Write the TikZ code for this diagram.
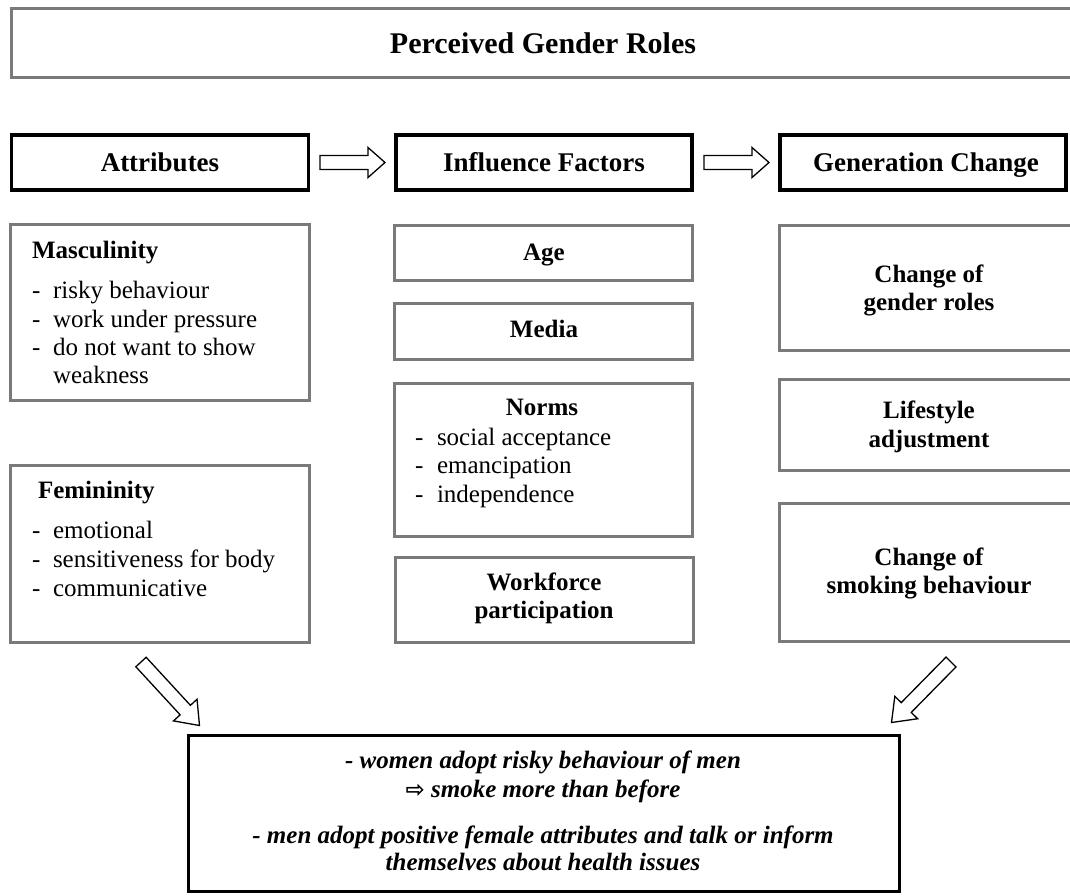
\documentclass[tikz,border=0pt]{standalone}
\usepackage{fontspec}
\setmainfont{Liberation Serif}
\newfontfamily\symfont{DejaVu Sans}
\usetikzlibrary{calc}
\definecolor{boxgray}{RGB}{122,122,122}
\newcommand{\hollowarrow}[5]{%
  \coordinate (hb) at ($(#2)!#5pt!(#1)$);
  \draw[blockarr] ($(#1)!#3pt!90:(#2)$) -- ($(hb)!#3pt!90:(#2)$) -- ($(hb)!#4pt!90:(#2)$) -- (#2)
     -- ($(hb)!#4pt!-90:(#2)$) -- ($(hb)!#3pt!-90:(#2)$) -- ($(#1)!#3pt!-90:(#2)$) -- cycle;}
\begin{document}
\begin{tikzpicture}[x=1pt,y=-1pt,
  every node/.style={inner sep=0pt, outer sep=0pt},
  gbox/.style={draw=boxgray, line width=3pt, rectangle, anchor=north west},
  hbox/.style={draw=black, line width=3.5pt, rectangle, anchor=north west},
  resbox/.style={draw=black, line width=3pt, rectangle, anchor=north west},
  body/.style={font=\fontsize{25pt}{28pt}\selectfont},
  lt/.style={body, anchor=base west},
  bt/.style={font=\fontsize{25pt}{28pt}\selectfont\bfseries, anchor=base},
  blt/.style={font=\fontsize{25pt}{28pt}\selectfont\bfseries, anchor=base west},
  hdr/.style={font=\fontsize{27pt}{30pt}\selectfont\bfseries, anchor=base},
  it/.style={font=\fontsize{25pt}{28pt}\selectfont\bfseries\itshape, anchor=base},
  blockarr/.style={draw=black, line width=1.3pt, fill=white, line join=miter}]
\useasboundingbox (0,0) rectangle (1070,895);
\clip (0,0) rectangle (1070,895);

% title box
\node[gbox, minimum width=1080pt, minimum height=69pt] (top) at (11.5,8) {};
\node[font=\fontsize{30pt}{33pt}\selectfont\bfseries, anchor=base] (title) at (543,53) {Perceived Gender Roles};

% headers
\node[hbox, minimum width=297pt, minimum height=55pt] (attr) at (11.5,135) {};
\node[hbox, minimum width=296pt, minimum height=55pt] (infl) at (396,135) {};
\node[hbox, minimum width=286pt, minimum height=55pt] (gen) at (780,135) {};
\node[hdr] (attrt) at (160,171.5) {Attributes};
\node[hdr] (inflt) at (544,171.5) {Influence Factors};
\node[hdr] (gent) at (926,171.5) {Generation Change};

\coordinate (a1t) at ($(attr.east)+(11.5,0)$);
\coordinate (a1h) at ($(infl.west)+(-11,0)$);
\coordinate (a2t) at ($(infl.east)+(12,0)$);
\coordinate (a2h) at ($(gen.west)+(-11,0)$);
\hollowarrow{a1t}{a1h}{7}{15}{17}
\hollowarrow{a2t}{a2h}{7}{15}{17}

% attributes column
\node[gbox, minimum width=299pt, minimum height=176pt] (masc) at (10.5,224.5) {};
\node[blt] (mh) at (32,258) {Masculinity};
\node[lt] (md1) at (32,298) {-};
\node[lt] (m1) at (53,298) {risky behaviour};
\node[lt] (md2) at (32,327) {-};
\node[lt] (m2) at (53,327) {work under pressure};
\node[lt] (md3) at (32,355) {-};
\node[lt] (m3) at (53,355) {do not want to show};
\node[lt] (m4) at (53,383) {weakness};

\node[gbox, minimum width=299pt, minimum height=177pt] (fem) at (10.5,465.5) {};
\node[blt] (fh) at (38,498) {Femininity};
\node[lt] (fd1) at (32,538) {-};
\node[lt] (f1) at (53,538) {emotional};
\node[lt] (fd2) at (32,567) {-};
\node[lt] (f2) at (53,567) {sensitiveness for body};
\node[lt] (fd3) at (32,596) {-};
\node[lt] (f3) at (53,596) {communicative};

% influence column
\node[gbox, minimum width=298pt, minimum height=55pt] (age) at (394.5,225.5) {};
\node[bt] (aget) at (544,260) {Age};
\node[gbox, minimum width=298pt, minimum height=56pt] (media) at (394.5,303.5) {};
\node[bt] (mediat) at (544,337) {Media};
\node[gbox, minimum width=298pt, minimum height=153pt] (norms) at (394.5,383.5) {};
\node[bt] (normst) at (542,415) {Norms};
\node[lt] (nd1) at (415,445) {-};
\node[lt] (n1) at (437,445) {social acceptance};
\node[lt] (nd2) at (415,473) {-};
\node[lt] (n2) at (437,473) {emancipation};
\node[lt] (nd3) at (415,502) {-};
\node[lt] (n3) at (437,502) {independence};
\node[gbox, minimum width=298pt, minimum height=85pt] (work) at (395,557.5) {};
\node[bt] (work1) at (544,590) {Workforce};
\node[bt] (work2) at (544,618) {participation};

% generation column
\node[gbox, minimum width=310pt, minimum height=125pt] (cgr) at (779.5,225.5) {};
\node[bt] (cgr1) at (929,282) {Change of};
\node[bt] (cgr2) at (929,310) {gender roles};
\node[gbox, minimum width=310pt, minimum height=91pt] (life) at (779.5,379.5) {};
\node[bt] (life1) at (929,418) {Lifestyle};
\node[bt] (life2) at (929,447) {adjustment};
\node[gbox, minimum width=310pt, minimum height=138pt] (smoke) at (779.5,503.5) {};
\node[bt] (smoke1) at (929,565) {Change of};
\node[bt] (smoke2) at (929,593) {smoking behaviour};

% result box
\node[resbox, minimum width=711pt, minimum height=156pt] (res) at (188.5,735.5) {};
\node[it] (r1) at (543,768) {- women adopt risky behaviour of men};
\node[it] (r2) at (543,797) {{\symfont\bfseries\fontsize{23pt}{24pt}\selectfont ⇨} smoke more than before};
\node[it] (r3) at (543,843) {- men adopt positive female attributes and talk or inform};
\node[it] (r4) at (543,870) {themselves about health issues};

% diagonal arrows
\coordinate (d1t) at (141,662);
\coordinate (d1h) at ($(res.north west)+(11,-10)$);
\coordinate (d2t) at (951,662);
\coordinate (d2h) at ($(res.north east)+(-8,-13)$);
\hollowarrow{d1t}{d1h}{7}{16}{21}
\hollowarrow{d2t}{d2h}{7}{16}{21}
\end{tikzpicture}
\end{document}
